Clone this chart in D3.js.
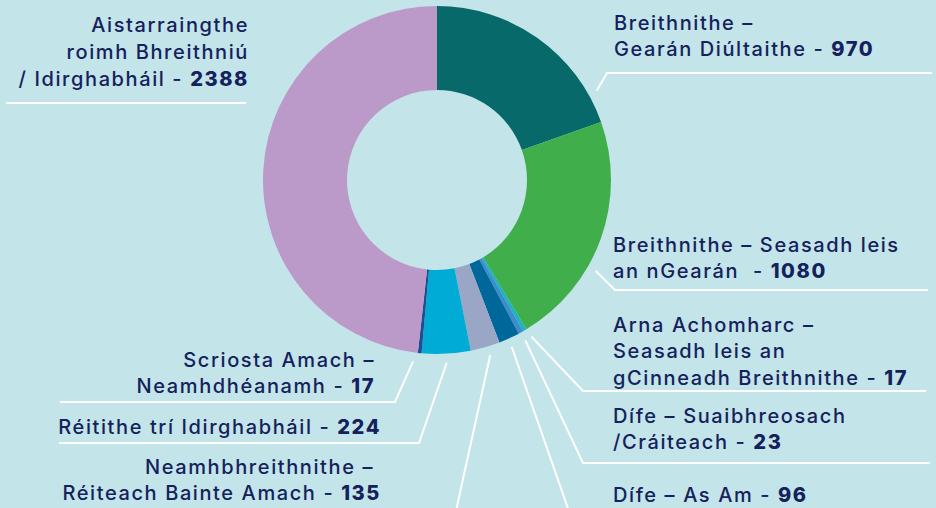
<!DOCTYPE html>
<html>
<head>
<meta charset="utf-8">
<script src="https://cdn.jsdelivr.net/npm/d3@7"></script>
<style>
    body { margin: 0; background: #c3e4e8; }
    svg { display: block; }
    text { font-family: Inter, Lato, sans-serif; font-size: 20px; font-weight: 500; letter-spacing: 1.6px; fill: #14215c; white-space: pre; }
    .num { font-weight: 800; }
</style>
</head>
<body>
<svg id="chart" width="936" height="508"></svg>
<script>
// slices, clockwise from the top
let categories = [
    ['Breithnithe –', 'Gearán Diúltaithe'],
    ['Breithnithe – Seasadh leis', 'an nGearán '],
    ['Arna Achomharc –', 'Seasadh leis an', 'gCinneadh Breithnithe'],
    ['Dífe – Suaibhreosach', '/Cráiteach'],
    ['Dífe – As Am'],
    ['Neamhbhreithnithe – ', 'Réiteach Bainte Amach'],
    ['Réitithe trí Idirghabháil'],
    ['Scriosta Amach –', 'Neamhdhéanamh'],
    ['Aistarraingthe', 'roimh Bhreithniú', '/ Idirghabháil']
]
let values = [970, 1080, 17, 23, 96, 135, 224, 17, 2388]
let colors = ['#07696a', '#41ae4c', '#1fb2c0', '#3d8ccc', '#00679b', '#9aa6c6', '#00abd5', '#1b4f94', '#bb99c8']

let width = 936
let height = 508
let cx = 437, cy = 180
let r_outer = 174, r_inner = 90
let line_h = 26.8

// label layout: text anchor point, first baseline, leader elbow and end
let label_pos = [
    { x: 614, y: 29.5, anchor: 'start', shift: 25.5, elbow: [607, 73], end: 932 },
    { x: 613, y: 251.5, anchor: 'start', shift: 10, elbow: [615, 290], end: 928 },
    { x: 613, y: 331.5, anchor: 'start', shift: -0.8, elbow: [583, 391], end: 926 },
    { x: 613, y: 422.5, anchor: 'start', shift: 0, elbow: [583, 463], end: 930 },
    { x: 613, y: 502, anchor: 'start', shift: 0.4, elbow: [572, 520], end: 900 },
    { x: 381, y: 473.5, anchor: 'end', shift: -0.8, elbow: [454, 520], end: 60 },
    { x: 381, y: 434, anchor: 'end', shift: 0, elbow: [419, 443], end: 59 },
    { x: 375, y: 366.5, anchor: 'end', shift: 1.8, elbow: [395, 402], end: 60 },
    { x: 249, y: 32, anchor: 'end', shift: null, elbow: [246, 103], end: 6 }
]

let svg = d3.select('#chart')
let g = svg.append('g').attr('transform', `translate(${cx},${cy})`)

let pie = d3.pie().sort(null).value(d => d)
let arcs = pie(values)
let arc = d3.arc().innerRadius(r_inner).outerRadius(r_outer)

g.selectAll('path.slice').data(arcs).enter()
    .append('path')
    .classed('slice', true)
    .attr('d', arc)
    .style('fill', (d, i) => colors[i])

// leader lines
let r_lead = 183
svg.selectAll('path.lead').data(arcs).enter()
    .append('path')
    .classed('lead', true)
    .attr('d', function (d, i) {
        let p = label_pos[i]
        if (p.shift === null)
            return `M${p.elbow[0]},${p.elbow[1]}H${p.end}`
        let a = (d.startAngle + d.endAngle) / 2 + p.shift * Math.PI / 180
        let x0 = cx + r_lead * Math.sin(a)
        let y0 = cy - r_lead * Math.cos(a)
        return `M${x0},${y0}L${p.elbow[0]},${p.elbow[1]}H${p.end}`
    })
    .style('fill', 'none')
    .style('stroke', '#ffffff')
    .style('stroke-width', 2)

// labels
categories.forEach(function (lines, i) {
    let p = label_pos[i]
    let t = svg.append('text')
        .attr('text-anchor', p.anchor)
    lines.forEach(function (line, j) {
        let last = j === lines.length - 1
        t.append('tspan')
            .attr('x', p.x)
            .attr('y', p.y + j * line_h)
            .text(last ? line + ' - ' : line)
        if (last)
            t.append('tspan').classed('num', true).text(values[i])
    })
})
</script>
</body>
</html>
